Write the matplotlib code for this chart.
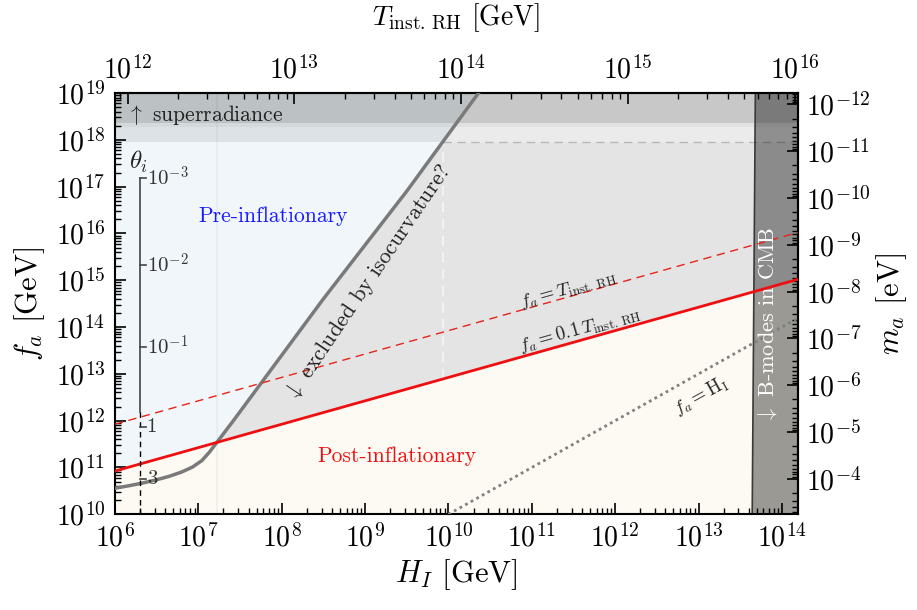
import numpy as np
import matplotlib.pyplot as plt
from matplotlib.ticker import LogLocator, NullFormatter

plt.rcParams.update({
    'font.family': 'serif',
    'font.serif': ['cmr10'],
    'mathtext.fontset': 'cm',
    'axes.formatter.use_mathtext': True,
    'axes.linewidth': 1.5,
})

# axis ranges and major ticks
H_lim = [1e6, 1.55e14]
fa_lim = [1e10, 1e19]
H_ticks = [1e6, 1e7, 1e8, 1e9, 1e10, 1e11, 1e12, 1e13, 1e14]
fa_ticks = [1e10, 1e11, 1e12, 1e13, 1e14, 1e15, 1e16, 1e17, 1e18, 1e19]
T_ticks = [1e12, 1e13, 1e14, 1e15, 1e16]
ma_ticks = [1e-12, 1e-11, 1e-10, 1e-9, 1e-8, 1e-7, 1e-6, 1e-5, 1e-4]

# isocurvature bound f_a(H_I)
iso_H = [1.0e6, 1.5e6, 2.2e6, 3.2e6, 4.5e6, 6.3e6, 8.5e6, 1.1e7, 1.35e7, 1.66e7,
         2.63e7, 5.0e7, 3.16e8, 3.16e9, 2.4e10]
iso_fa = [3.6e10, 4.1e10, 4.7e10, 5.5e10, 6.5e10, 8.0e10, 1.02e11, 1.4e11, 2.1e11, 3.4e11,
          1.0e12, 4.7e12, 4.0e14, 8.0e16, 1.12e19]
i_cross = 9  # where the bound meets f_a = 0.1 T

# reheating lines, end points at the x limits
line_H = [1e6, 1.55e14]
fa_T = [8.4e11, 1.046e16]
fa_01T = [8.4e10, 1.046e15]

# f_a = H_I
hub_H = [1e10, 1.55e14]
hub_fa = [1e10, 1.55e14]

# horizontal bands / limits
fa_cap = 8.9e17
fa_superrad = [1.9e18, 2.3e18]
H_split = 8.5e9
H_bmode = [4.4e13, 4.8e13]

# initial misalignment angle scale
theta_H = 2.0e6
theta_labels = [r'$10^{-3}$', r'$10^{-2}$', r'$10^{-1}$', '1', '3']
theta_fa = [1.55e17, 2.1e15, 3.8e13, 7.4e11, 5.6e10]
theta_solid = [1.55e17, 1.55e12]

# conversions for the twin axes
c_RH = 8.4e8     # T_inst.RH = c_RH * sqrt(H_I)
c_ma = 5.7e6     # m_a [eV] = c_ma / f_a [GeV]


def H_to_T(H):
    return c_RH * np.sqrt(np.asarray(H, dtype=float))


def T_to_H(T):
    return (np.asarray(T, dtype=float) / c_RH) ** 2


def fa_to_ma(f):
    return c_ma / np.asarray(f, dtype=float)


def log_ticks(axis, majors):
    axis.set_ticks(majors)
    axis.set_minor_locator(LogLocator(base=10, subs=np.arange(2, 10), numticks=30))
    axis.set_minor_formatter(NullFormatter())


fig = plt.figure(figsize=(9.17, 6.10), dpi=100)
ax = fig.add_axes([0.1254, 0.1569, 0.7446, 0.6906])
ax.set_xscale('log')
ax.set_yscale('log')

# regions
ax.fill([H_lim[0], H_lim[0], line_H[1], line_H[1]],
        [fa_lim[0], fa_01T[0], fa_01T[1], fa_lim[0]],
        color='#fcfaf3', lw=0, zorder=0)
ax.fill([H_lim[0]] + iso_H[i_cross:] + [H_lim[0]],
        [fa_01T[0]] + iso_fa[i_cross:] + [iso_fa[-1]],
        color='#f0f6fa', lw=0, zorder=0)
gx = [iso_H[i_cross], line_H[1], line_H[1], H_split] + iso_H[i_cross + 1:-1][::-1]
gy = [iso_fa[i_cross], fa_01T[1], fa_cap, fa_cap] + iso_fa[i_cross + 1:-1][::-1]
ax.fill(gx, gy, color='#e4e4e4', lw=0, zorder=0)
ax.axvline(iso_H[i_cross], color='#a0b8d0', alpha=0.12, lw=1.5, zorder=0.5)

# superradiance bands
ax.axhspan(fa_cap, fa_lim[1], color='k', alpha=0.08, lw=0, zorder=1)
ax.axhspan(fa_superrad[0], fa_lim[1], color='k', alpha=0.04, lw=0, zorder=1)
ax.axhspan(fa_superrad[1], fa_lim[1], color='k', alpha=0.11, lw=0, zorder=1)

# dashed guides
ax.plot([H_split, H_lim[1]], [fa_cap, fa_cap], color='#b8b8b8', lw=1, dashes=(6, 4), zorder=1.5)
ax.plot([H_split, H_split], [7.6e12, fa_cap], color='#f6f6f6', lw=1.2, dashes=(6, 4), zorder=1.5)

# B-modes exclusion
ax.fill([H_bmode[0], H_bmode[1], H_lim[1], H_lim[1]],
        [fa_lim[0], fa_lim[1], fa_lim[1], fa_lim[0]],
        color='k', alpha=0.39, lw=0, zorder=2)
ax.plot(H_bmode, fa_lim, color='#3a3a3a', lw=1.2, zorder=2.1)

# lines
ax.plot(iso_H, iso_fa, color='#7a7a7a', lw=2.5, zorder=3)
ax.plot(line_H, fa_T, color='#e8231a', lw=1, dashes=(6, 4), zorder=3)
ax.plot(line_H, fa_01T, color='#ee1010', lw=2, zorder=3)
ax.plot(hub_H, hub_fa, color='#808080', lw=2, dashes=(1, 1.3), zorder=3)

# theta_i scale
ax.plot([theta_H, theta_H], theta_solid, color='#444444', lw=1.2, zorder=3)
ax.plot([theta_H, theta_H], [theta_solid[1], fa_lim[0]], color='k', lw=1, dashes=(4, 3), zorder=3)
for lab, f in zip(theta_labels, theta_fa):
    ax.plot([theta_H, theta_H * 1.18], [f, f], color='#444444', lw=1.2, zorder=3)
    ax.text(theta_H * 1.2, f, lab, fontsize=15, va='center', ha='left', color='#333333', zorder=4)
ax.text(1.9e6, 3.4e17, r'$\theta_i$', fontsize=18, ha='center', va='center', color='#222222')

# annotations
ax.text(1.4e6, 3.4e18, r'$\uparrow$ superradiance', fontsize=15.5, va='center', ha='left', color='#222222')
ax.text(7.9e7, 2.3e16, 'Pre-inflationary', fontsize=15.5, color='#1a1aff', ha='center', va='center')
ax.text(2.4e9, 1.7e11, 'Post-inflationary', fontsize=15.5, color='#ee1010', ha='center', va='center')
ax.text(1.1e9, 9.1e14, r'$\downarrow$ excluded by isocurvature?', fontsize=16, rotation=56,
        ha='center', va='center', rotation_mode='anchor', color='#222222', zorder=4)
ax.text(2.75e11, 6.2e14, r'$f_a = T_{\rm inst.\,RH}$', fontsize=13.5, rotation=15.7,
        ha='center', va='center', rotation_mode='anchor', color='#222222', zorder=4)
ax.text(3.8e11, 8.9e13, r'$f_a = 0.1\,T_{\rm inst.\,RH}$', fontsize=13.5, rotation=15.7,
        ha='center', va='center', rotation_mode='anchor', color='#222222', zorder=4)
ax.text(1.05e13, 3.4e12, r'$f_a = \mathrm{H_I}$', fontsize=13.5, rotation=29,
        ha='center', va='center', rotation_mode='anchor', color='#222222', zorder=4)
ax.text(6.7e13, 1.1e14, r'$\downarrow$ B-modes in CMB', fontsize=16, rotation=90,
        ha='center', va='center', color='white', zorder=4)

# main axes ticks
log_ticks(ax.xaxis, H_ticks)
log_ticks(ax.yaxis, fa_ticks)
ax.set_xlim(H_lim)
ax.set_ylim(fa_lim)
ax.tick_params(which='both', direction='in', top=False, right=False, labelsize=20)
ax.tick_params(which='major', length=8, width=1.2, pad=7)
ax.tick_params(which='minor', length=4, width=1.0)
ax.set_xlabel(r'$H_I$ [GeV]', fontsize=22, labelpad=3)
ax.set_ylabel(r'$f_a$ [GeV]', fontsize=22, labelpad=6)

# top axis: instantaneous reheating temperature
top = ax.secondary_xaxis('top', functions=(H_to_T, T_to_H))
log_ticks(top.xaxis, T_ticks)
top.tick_params(which='both', direction='in', labelsize=20)
top.tick_params(which='major', length=8, width=1.2, pad=6)
top.tick_params(which='minor', length=4, width=1.0)
top.set_xlabel(r'$T_{\rm inst.\,RH}$ [GeV]', fontsize=20, labelpad=22)

# right axis: axion mass
right = ax.secondary_yaxis('right', functions=(fa_to_ma, fa_to_ma))
log_ticks(right.yaxis, ma_ticks)
right.tick_params(which='both', direction='in', labelsize=20)
right.tick_params(which='major', length=8, width=1.2, pad=6)
right.tick_params(which='minor', length=4, width=1.0)
right.set_ylabel(r'$m_a$ [eV]', fontsize=22, labelpad=2)

fig.savefig('out.png', dpi=100)
